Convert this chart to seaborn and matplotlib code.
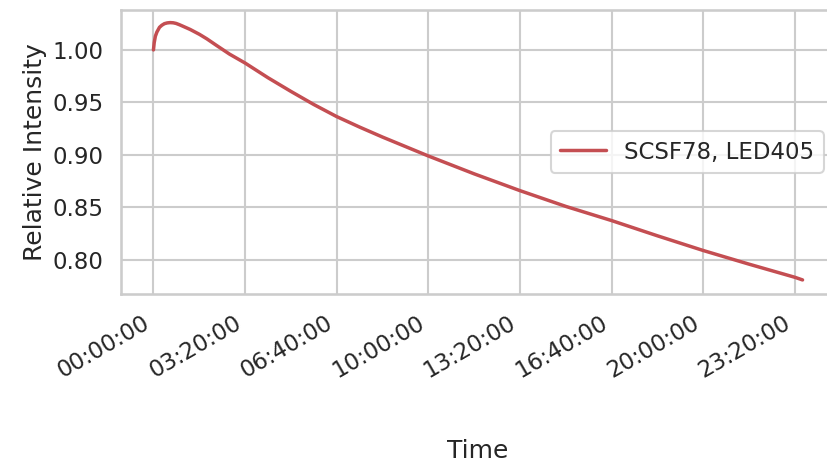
import numpy as np
import pandas as pd
import matplotlib
matplotlib.use("Agg")
import matplotlib.pyplot as plt
from matplotlib.ticker import FuncFormatter, MultipleLocator
import seaborn as sns

# Data (time in seconds, relative intensity)
time_s = [0, 100, 250, 450, 790, 1100, 1440, 1800, 2180, 2600, 2970, 3400,
          3840, 4800, 6030, 7000, 8210, 9960, 12000, 15000, 18000, 21000,
          24000, 27000, 30000, 33000, 36000, 42000, 48000, 54000, 60000,
          66000, 72000, 78000, 84000, 85000]
intensity = [1.000, 1.007, 1.013, 1.017, 1.0215, 1.0235, 1.025, 1.0257, 1.026,
             1.0258, 1.0252, 1.024, 1.0226, 1.0195, 1.0148, 1.0105, 1.0045,
             0.996, 0.9875, 0.9735, 0.9605, 0.948, 0.9365, 0.9265, 0.917,
             0.908, 0.899, 0.882, 0.866, 0.851, 0.8375, 0.823, 0.809, 0.796,
             0.7835, 0.781]
series_label = "SCSF78, LED405"

sns.set_theme(context="talk", style="whitegrid")
sns.set_color_codes("deep")

df = pd.DataFrame({"Time": time_s, "Relative Intensity": intensity})

fig = plt.figure(figsize=(8.27, 4.65), dpi=100)
ax = fig.add_axes([121/827, 1 - 294/465, (835 - 121)/827, (294 - 10)/465])
sns.lineplot(data=df, x="Time", y="Relative Intensity", ax=ax,
             color="r", label=series_label, linewidth=2.5)

def fmt(x, pos):
    x = int(round(x))
    sign = "-" if x < 0 else ""
    x = abs(x)
    h, rem = divmod(x, 3600)
    m, s = divmod(rem, 60)
    return f"{sign}{h:02d}:{m:02d}:{s:02d}"

ax.xaxis.set_major_locator(MultipleLocator(12000))
ax.xaxis.set_major_formatter(FuncFormatter(fmt))
ax.set_xlim(-4250, 89250)
ax.set_ylim(0.7676, 1.038)
ax.set_yticks([0.80, 0.85, 0.90, 0.95, 1.00])
for lbl in ax.get_xticklabels():
    lbl.set_rotation(30)
    lbl.set_ha("right")
ax.set_xlabel("Time", labelpad=41)
ax.set_ylabel("Relative Intensity")
ax.legend(loc="center right", bbox_to_anchor=(1.0, 0.50))

fig.savefig("out.png", dpi=100)
